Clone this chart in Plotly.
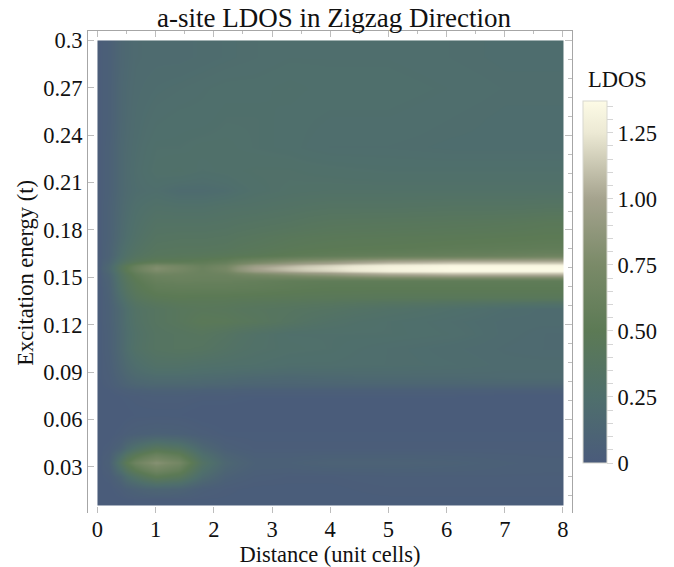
import plotly.graph_objects as go

title = "a-site LDOS in Zigzag Direction"
x_label = "Distance (unit cells)"
y_label = "Excitation energy (t)"
cbar_label = "LDOS"

x_edges = [0,.08,.3,.5,.8,1.2,1.6,2,2.4,3,3.6,4.4,5.6,6.6,7.4,8]
y_edges = [.0054,.012,.02,.028,.038,.046,.056,.07,.079,.083,.09,.1,.11,.118,.126,.134,.14,.146,.15,.153,.155,.157,.159,.162,.166,.172,.18,.19,.2,.21,.225,.24,.26,.28,.3]

ldos = [
 [.01,.01,.01,.02,.02,.02,.02,.02,.02,.02,.02,.02,.02,.02,.02],
 [.01,.01,.04,.09,.13,.11,.05,.03,.02,.02,.02,.03,.03,.03,.03],
 [.01,.03,.13,.33,.5,.43,.2,.08,.04,.03,.03,.04,.04,.04,.04],
 [.02,.06,.34,.65,.82,.7,.33,.15,.07,.07,.09,.09,.08,.06,.05],
 [.01,.03,.1,.28,.42,.36,.16,.06,.03,.03,.03,.03,.03,.03,.03],
 [.01,.01,.03,.06,.08,.07,.04,.02,.02,.02,.02,.02,.02,.02,.02],
 [.01,.01,.01,.02,.02,.02,.01,.01,.01,.01,.01,.01,.01,.01,.01],
 [.01,.01,.02,.03,.04,.04,.03,.03,.02,.02,.02,.02,.02,.01,.01],
 [.01,.03,.07,.11,.13,.13,.12,.11,.1,.1,.1,.1,.1,.1,.1],
 [.02,.04,.1,.17,.2,.2,.19,.18,.16,.15,.16,.17,.17,.18,.18],
 [.02,.05,.14,.24,.3,.3,.28,.27,.26,.24,.24,.23,.22,.2,.2],
 [.02,.06,.17,.3,.36,.38,.37,.33,.29,.27,.26,.23,.21,.19,.18],
 [.02,.06,.17,.29,.36,.38,.4,.36,.3,.26,.26,.26,.24,.2,.18],
 [.02,.07,.18,.31,.38,.42,.47,.46,.42,.36,.3,.26,.23,.2,.2],
 [.02,.07,.18,.32,.38,.42,.44,.43,.4,.38,.35,.3,.26,.22,.2],
 [.02,.08,.24,.4,.47,.49,.48,.48,.47,.46,.45,.44,.44,.44,.44],
 [.02,.09,.29,.45,.54,.55,.55,.55,.54,.52,.5,.5,.5,.5,.5],
 [.03,.1,.32,.49,.59,.61,.6,.6,.58,.55,.54,.54,.54,.54,.54],
 [.03,.12,.34,.53,.64,.64,.62,.63,.7,.77,.84,.95,1.0,1.0,1.0],
 [.04,.15,.38,.6,.76,.7,.62,.7,.95,1.07,1.17,1.3,1.35,1.35,1.35],
 [.05,.16,.4,.62,.8,.72,.63,.72,1.0,1.12,1.22,1.33,1.37,1.37,1.37],
 [.04,.15,.37,.58,.74,.68,.6,.68,.92,1.04,1.16,1.28,1.33,1.33,1.33],
 [.04,.12,.3,.43,.5,.5,.52,.56,.68,.78,.86,.98,1.02,1.02,1.02],
 [.03,.09,.24,.36,.42,.43,.44,.46,.48,.52,.55,.58,.6,.62,.65],
 [.03,.09,.22,.32,.39,.4,.4,.41,.44,.47,.49,.5,.52,.53,.54],
 [.03,.08,.19,.29,.36,.37,.37,.38,.41,.44,.46,.47,.48,.49,.5],
 [.03,.08,.18,.27,.33,.33,.33,.34,.36,.38,.41,.42,.43,.44,.46],
 [.03,.08,.17,.25,.29,.28,.28,.3,.31,.33,.35,.35,.36,.36,.37],
 [.03,.07,.16,.22,.24,.2,.2,.22,.27,.29,.3,.3,.3,.3,.3],
 [.03,.07,.16,.23,.27,.28,.26,.27,.28,.28,.27,.26,.26,.26,.26],
 [.03,.07,.16,.22,.26,.26,.27,.27,.26,.25,.23,.23,.22,.22,.22],
 [.03,.06,.15,.21,.24,.25,.25,.26,.26,.25,.24,.24,.23,.22,.22],
 [.03,.06,.15,.2,.22,.23,.24,.25,.25,.26,.25,.25,.24,.23,.23],
 [.03,.06,.14,.19,.2,.2,.21,.22,.23,.24,.24,.24,.23,.22,.22],
]

color_stops = [[0,"#4a5b7b"],[.182,"#4f6f6c"],[.365,"#5c7a55"],[.547,"#7a8a68"],[.73,"#a5a38e"],[.912,"#ece9d4"],[1,"#fdfbe6"]]

cbar_ticks = [round(i*0.05,2) for i in range(28)]
cbar_text = {0:"0",.25:"0.25",.5:"0.50",.75:"0.75",1.0:"1.00",1.25:"1.25"}
x_ticks = list(range(9))
y_ticks = [round(.03*i,2) for i in range(1,11)]
y_text = ["0.03","0.06","0.09","0.12","0.15","0.18","0.21","0.24","0.27","0.3"]

SERIF = "Liberation Serif"
INK = "#111111"
FRAME = "#a6a6a6"
TICK = "#bdbdbd"
PLOT_H = 482.5
PLOT_W = 484.5
PLOT_B = 513
PLOT_L = 87.5

fig = go.Figure()
fig.add_trace(go.Heatmap(
    x=x_edges, y=y_edges, z=ldos, zsmooth="best", zmin=0, zmax=1.37,
    colorscale=color_stops, hoverinfo="skip",
    colorbar=dict(
        x=(583-PLOT_L)/PLOT_W, xanchor="left", y=(PLOT_B-463)/PLOT_H, yanchor="bottom",
        xpad=0, ypad=0,
        thicknessmode="pixels", thickness=24, lenmode="pixels", len=362,
        outlinecolor="#d8d8d0", outlinewidth=1, borderwidth=0,
        tickmode="array", tickvals=cbar_ticks, ticktext=[cbar_text.get(v,"") for v in cbar_ticks],
        ticks="outside", ticklen=6, tickcolor="#d5d5d5", tickwidth=1,
        tickfont=dict(family=SERIF, size=22.5, color=INK),
    ),
))
fig.add_trace(go.Scatter(x=[None], y=[None], xaxis="x2", yaxis="y2", showlegend=False, hoverinfo="skip"))

x_range = [-0.163, 8.155]
y_range = [0.0008, 0.306]
axis_common = dict(showgrid=False, zeroline=False, linecolor=FRAME, linewidth=1, automargin=False,
                   ticks="inside", tickcolor=TICK, tickfont=dict(family=SERIF, size=22.5, color=INK))
fig.update_layout(
    width=674, height=567, autosize=False, paper_bgcolor="white", plot_bgcolor="white",
    margin=dict(l=87.5, r=102, t=30.5, b=54),
    title=dict(text=title, x=334/674, xanchor="center", y=1-27/567, yanchor="bottom",
               font=dict(family=SERIF, size=27, color=INK)),
    xaxis=dict(range=x_range, tickmode="array", tickvals=x_ticks, ticklen=6, showline=False,
               title=dict(text=x_label, font=dict(family=SERIF, size=22.5, color=INK)), **axis_common),
    yaxis=dict(range=y_range, tickmode="array", tickvals=y_ticks, ticktext=y_text, ticklen=6, showline=True,
               **axis_common),
    xaxis2=dict(range=x_range, overlaying="x", side="top", anchor="y2", showticklabels=False, showline=True,
                tickmode="linear", tick0=0, dtick=1, ticklen=6,
                minor=dict(ticks="inside", dtick=0.5, ticklen=3, tickcolor=TICK, tick0=0), **axis_common),
    yaxis2=dict(range=y_range, overlaying="y", side="right", anchor="x2", showticklabels=False, showline=True,
                tickmode="linear", tick0=0, dtick=0.06, ticklen=7,
                minor=dict(ticks="inside", dtick=0.012, ticklen=4, tickcolor=TICK, tick0=0), **axis_common),
    annotations=[
        dict(text=cbar_label, xref="paper", yref="paper", x=(586-PLOT_L)/PLOT_W, y=(PLOT_B-79)/PLOT_H,
             xanchor="left", yanchor="middle", showarrow=False, font=dict(family=SERIF, size=22.5, color=INK)),
        dict(text=y_label, xref="paper", yref="paper", x=(25-PLOT_L)/PLOT_W, y=(PLOT_B-273)/PLOT_H,
             xanchor="center", yanchor="middle", textangle=-90, showarrow=False,
             font=dict(family=SERIF, size=22.5, color=INK)),
    ],
)
fig.write_html("out.html", post_script="document.body.style.margin='0';", config=dict(displayModeBar=False))
